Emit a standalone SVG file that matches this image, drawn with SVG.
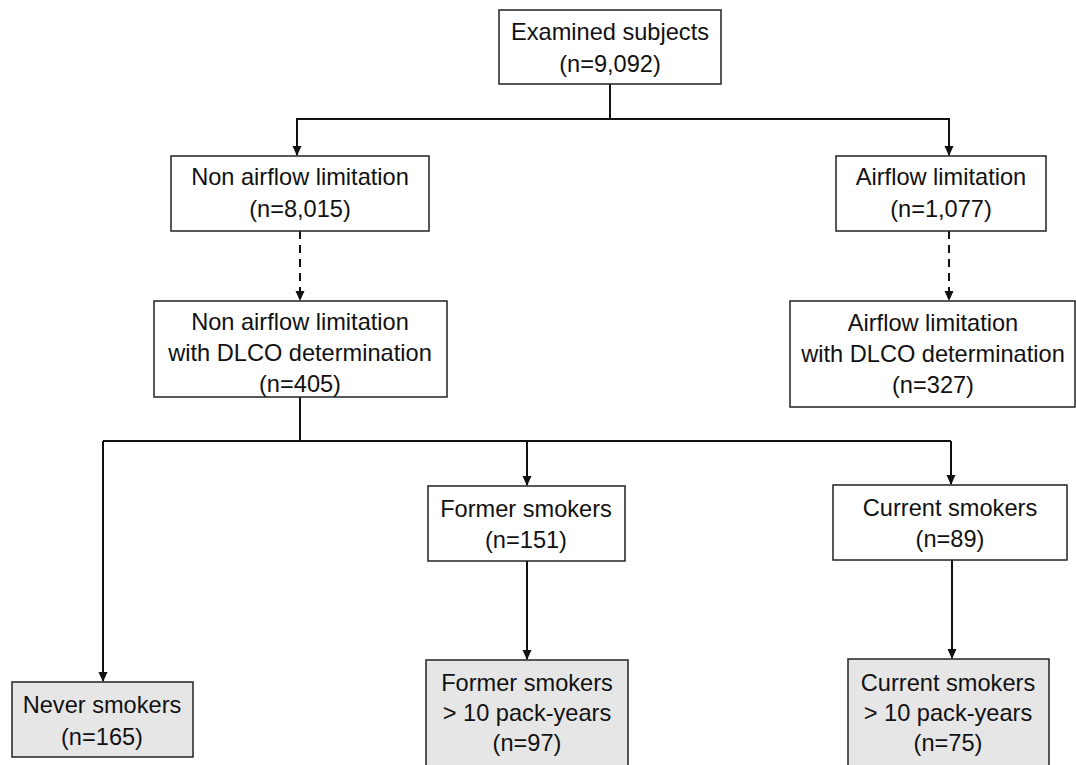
<svg xmlns="http://www.w3.org/2000/svg" width="1076" height="765" viewBox="0 0 1076 765">
<style>
.box{fill:#fff;stroke:#222;stroke-width:1.5}
.grey{fill:#e6e6e6}
.t{font-family:"Liberation Sans",Arial,sans-serif;font-size:23.6px;fill:#111;text-anchor:middle}
.c{fill:none;stroke:#111;stroke-width:2}
.d{stroke-dasharray:8,6}
</style>
<defs>
<marker id="a" markerWidth="10" markerHeight="10" refX="9" refY="5" orient="auto" markerUnits="userSpaceOnUse" viewBox="0 0 10 10">
<path d="M0,0.5 L10,5 L0,9.5 Z" fill="#111"/>
</marker>
</defs>
<rect width="1076" height="765" fill="#fff"/>
<g id="connectors">
<path class="c" d="M610,84 V119"/>
<path class="c" d="M296,119 H950"/>
<path class="c" d="M297,119 V155" marker-end="url(#a)"/>
<path class="c" d="M949,119 V155" marker-end="url(#a)"/>
<path class="c d" d="M300,231 V300" marker-end="url(#a)"/>
<path class="c d" d="M949,231 V300" marker-end="url(#a)"/>
<path class="c" d="M300,397 V441"/>
<path class="c" d="M103,441 H951"/>
<path class="c" d="M103,441 V681" marker-end="url(#a)"/>
<path class="c" d="M527,441 V485" marker-end="url(#a)"/>
<path class="c" d="M951,441 V484" marker-end="url(#a)"/>
<path class="c" d="M527,561 V659" marker-end="url(#a)"/>
<path class="c" d="M952,560 V658" marker-end="url(#a)"/>
</g>
<g id="examined">
<rect class="box" x="499" y="10" width="222" height="74"/>
<text class="t" x="610" y="40">Examined subjects</text>
<text class="t" x="610" y="72">(n=9,092)</text>
</g>
<g id="nonairflow">
<rect class="box" x="171" y="156" width="258" height="75"/>
<text class="t" x="300" y="185">Non airflow limitation</text>
<text class="t" x="300" y="217">(n=8,015)</text>
</g>
<g id="airflow">
<rect class="box" x="836" y="156" width="210" height="75"/>
<text class="t" x="941" y="185">Airflow limitation</text>
<text class="t" x="941" y="217">(n=1,077)</text>
</g>
<g id="nonairflow-dlco">
<rect class="box" x="154" y="301" width="293" height="96"/>
<text class="t" x="300" y="330">Non airflow limitation</text>
<text class="t" x="300" y="361">with DLCO determination</text>
<text class="t" x="300" y="392">(n=405)</text>
</g>
<g id="airflow-dlco">
<rect class="box" x="790" y="301" width="285" height="106"/>
<text class="t" x="933" y="331">Airflow limitation</text>
<text class="t" x="933" y="362">with DLCO determination</text>
<text class="t" x="933" y="393">(n=327)</text>
</g>
<g id="never">
<rect class="box grey" x="12" y="682" width="181" height="75"/>
<text class="t" x="102" y="713">Never smokers</text>
<text class="t" x="102" y="745">(n=165)</text>
</g>
<g id="former">
<rect class="box" x="428" y="486" width="197" height="75"/>
<text class="t" x="526" y="517">Former smokers</text>
<text class="t" x="526" y="548">(n=151)</text>
</g>
<g id="current">
<rect class="box" x="833" y="485" width="234" height="75"/>
<text class="t" x="950" y="516">Current smokers</text>
<text class="t" x="950" y="547">(n=89)</text>
</g>
<g id="former10">
<rect class="box grey" x="426" y="660" width="202" height="110"/>
<text class="t" x="527" y="691">Former smokers</text>
<text class="t" x="527" y="721">&gt; 10 pack-years</text>
<text class="t" x="527" y="751">(n=97)</text>
</g>
<g id="current10">
<rect class="box grey" x="848" y="659" width="201" height="110"/>
<text class="t" x="948" y="691">Current smokers</text>
<text class="t" x="948" y="721">&gt; 10 pack-years</text>
<text class="t" x="948" y="751">(n=75)</text>
</g>
</svg>
